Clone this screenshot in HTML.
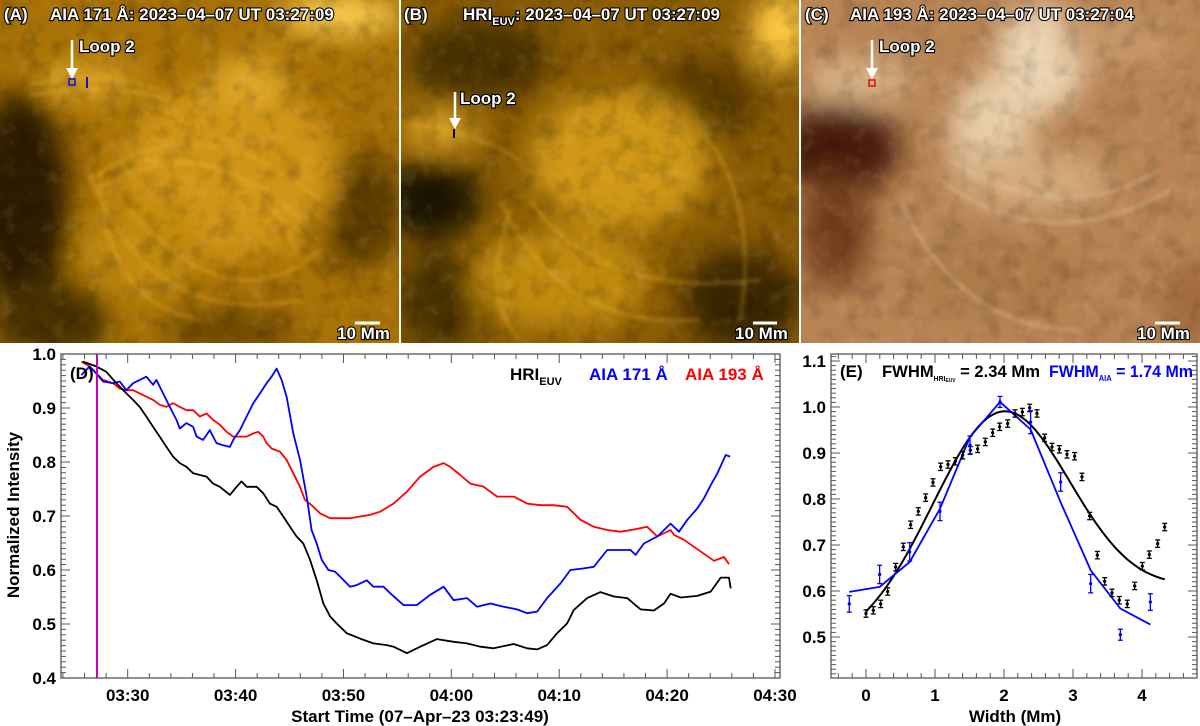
<!DOCTYPE html>
<html><head><meta charset="utf-8"><title>Loop 2 intensity and width</title>
<style>
html,body{margin:0;padding:0;background:#fff;}
svg{display:block;font-family:"Liberation Sans",sans-serif;}
.lbl{font-weight:bold;fill:#fff;stroke:#000;stroke-width:2.2px;paint-order:stroke;font-size:17px;}
.tk{font-weight:bold;font-size:17px;fill:#000;}
</style></head>
<body>
<svg id="fig" width="1200" height="726" viewBox="0 0 1200 726">
<defs>
 <clipPath id="cA"><rect x="0" y="0" width="399" height="343"/></clipPath>
 <clipPath id="cB"><rect x="401" y="0" width="398" height="343"/></clipPath>
 <clipPath id="cC"><rect x="801" y="0" width="399" height="343"/></clipPath>
 <filter id="blur8"><feGaussianBlur stdDeviation="14"/></filter>
 <filter id="blur3"><feGaussianBlur stdDeviation="2"/></filter>
 <filter id="tex" x="0" y="0" width="100%" height="100%">
  <feTurbulence type="fractalNoise" baseFrequency="0.05" numOctaves="3" seed="4"/>
  <feColorMatrix type="matrix" values="0 0 0 0 0  0 0 0 0 0  0 0 0 0 0  0 0 0 -2.2 1.2"/>
 </filter>
 <filter id="tex2" x="0" y="0" width="100%" height="100%">
  <feTurbulence type="fractalNoise" baseFrequency="0.06" numOctaves="3" seed="9"/>
  <feColorMatrix type="matrix" values="0 0 0 0 1  0 0 0 0 0.85  0 0 0 0 0.5  0 0 0 2.4 -1.3"/>
 </filter>
</defs>

<!-- Panel A -->
<g clip-path="url(#cA)">
 <rect x="0" y="0" width="399" height="343" fill="#a87206"/>
 <g filter="url(#blur8)">
  <ellipse cx="20" cy="200" rx="50" ry="110" fill="#2e1c00"/>
  <ellipse cx="50" cy="320" rx="60" ry="40" fill="#4a3000"/>
  <ellipse cx="360" cy="210" rx="40" ry="60" fill="#5a3a00"/>
  <ellipse cx="230" cy="330" rx="70" ry="20" fill="#6a4400"/>
  <ellipse cx="340" cy="15" rx="60" ry="20" fill="#ffd050"/>
  <ellipse cx="230" cy="170" rx="110" ry="90" fill="#d09414"/>
  <ellipse cx="90" cy="80" rx="50" ry="20" fill="#d8a020"/>
  <ellipse cx="250" cy="80" rx="40" ry="25" fill="#e0a828"/>
  <ellipse cx="140" cy="250" rx="60" ry="50" fill="#c08810"/>
 </g>
 <g fill="none" stroke="#f0b830" stroke-opacity="0.45" stroke-width="2.5" filter="url(#blur3)">
  <path d="M90 180 Q200 100 320 200"/><path d="M95 190 Q210 120 310 230"/><path d="M90 175 Q150 330 300 300"/>
  <path d="M120 200 Q230 330 320 250"/><path d="M100 170 Q100 300 200 320"/><path d="M140 160 Q260 150 300 260"/>
  <path d="M30 85 Q100 70 160 90"/><path d="M30 95 Q110 80 170 100"/>
 </g>
 <rect x="0" y="0" width="399" height="343" filter="url(#tex)" opacity="0.2"/>
 <rect x="0" y="0" width="399" height="343" filter="url(#tex2)" opacity="0.12"/>
</g>
<!-- Panel B -->
<g clip-path="url(#cB)">
 <rect x="401" y="0" width="398" height="343" fill="#8a5c04"/>
 <g filter="url(#blur8)">
  <ellipse cx="430" cy="200" rx="50" ry="40" fill="#1e1200"/>
  <ellipse cx="480" cy="60" rx="70" ry="40" fill="#4a3000"/>
  <ellipse cx="700" cy="100" rx="60" ry="40" fill="#5a3a00"/>
  <ellipse cx="740" cy="300" rx="60" ry="50" fill="#3a2600"/>
  <ellipse cx="440" cy="300" rx="40" ry="50" fill="#4a3000"/>
  <ellipse cx="620" cy="160" rx="90" ry="70" fill="#d09818"/>
  <ellipse cx="560" cy="280" rx="90" ry="50" fill="#c08a10"/>
  <ellipse cx="780" cy="30" rx="30" ry="40" fill="#ffc840"/>
  <ellipse cx="440" cy="130" rx="40" ry="20" fill="#d8a020"/>
 </g>
 <g fill="none" stroke="#f0b830" stroke-opacity="0.45" stroke-width="2.5" filter="url(#blur3)">
  <path d="M500 200 Q560 330 700 320"/><path d="M530 200 Q600 300 760 280"/><path d="M510 210 Q480 300 520 340"/>
  <path d="M700 130 Q760 200 740 320"/><path d="M410 125 Q470 130 520 160"/>
 </g>
 <rect x="401" y="0" width="398" height="343" filter="url(#tex)" opacity="0.2"/>
 <rect x="401" y="0" width="398" height="343" filter="url(#tex2)" opacity="0.12"/>
</g>
<!-- Panel C -->
<g clip-path="url(#cC)">
 <rect x="801" y="0" width="399" height="343" fill="#b88454"/>
 <g filter="url(#blur8)">
  <ellipse cx="840" cy="150" rx="60" ry="45" fill="#4a1e08"/>
  <ellipse cx="835" cy="230" rx="35" ry="60" fill="#74401a"/>
  <ellipse cx="860" cy="80" rx="55" ry="22" fill="#d8b488"/>
  <ellipse cx="1040" cy="60" rx="45" ry="55" fill="#ecd4b4"/>
  <ellipse cx="990" cy="130" rx="40" ry="55" fill="#e8cca8"/>
  <ellipse cx="1030" cy="180" rx="80" ry="30" fill="#d4aa7c"/>
  <ellipse cx="1120" cy="40" rx="60" ry="25" fill="#c89868"/>
  <ellipse cx="1000" cy="280" rx="90" ry="40" fill="#ad7a4a"/>
  <ellipse cx="1190" cy="300" rx="30" ry="40" fill="#a06a3a"/>
 </g>
 <g fill="none" stroke="#e8cfae" stroke-opacity="0.5" stroke-width="2.5" filter="url(#blur3)">
  <path d="M950 160 Q1060 230 1160 170"/><path d="M940 180 Q1050 260 1170 190"/><path d="M900 200 Q960 330 1080 330"/>
 </g>
 <rect x="801" y="0" width="399" height="343" filter="url(#tex)" opacity="0.15"/>
 <rect x="801" y="0" width="399" height="343" filter="url(#tex2)" opacity="0.12"/>
</g>
<rect x="399" y="0" width="2" height="343" fill="#fff"/>
<rect x="799" y="0" width="2" height="343" fill="#fff"/>

<!-- Labels top -->
<g>
 <text class="lbl" x="4" y="20">(A)</text>
 <text class="lbl" x="50" y="20">AIA 171 Å: 2023–04–07 UT 03:27:09</text>
 <line x1="72" y1="40" x2="72" y2="70" stroke="#fff" stroke-width="2.5"/>
 <polygon points="66,68 78,68 72,79" fill="#fff"/>
 <text class="lbl" x="79" y="52">Loop 2</text>
 <rect x="69" y="79" width="6" height="6" fill="none" stroke="#1010e0" stroke-width="1.5"/>
 <line x1="87" y1="77" x2="87" y2="88" stroke="#1010e0" stroke-width="2"/>
 <line x1="355" y1="323" x2="380" y2="323" stroke="#fff" stroke-width="3"/>
 <text class="lbl" x="337" y="339">10 Mm</text>
</g>
<g>
 <text class="lbl" x="404" y="20">(B)</text>
 <text class="lbl" x="463" y="20">HRI<tspan font-size="11" dy="5">EUV</tspan><tspan dy="-5">: 2023–04–07 UT 03:27:09</tspan></text>
 <line x1="455" y1="92" x2="455" y2="120" stroke="#fff" stroke-width="2.5"/>
 <polygon points="449,118 461,118 455,129" fill="#fff"/>
 <text class="lbl" x="460" y="104">Loop 2</text>
 <line x1="454" y1="129" x2="454" y2="138" stroke="#000" stroke-width="2"/>
 <line x1="753" y1="323" x2="777" y2="323" stroke="#fff" stroke-width="3"/>
 <text class="lbl" x="735" y="339">10 Mm</text>
</g>
<g>
 <text class="lbl" x="805" y="20">(C)</text>
 <text class="lbl" x="850" y="20">AIA 193 Å: 2023–04–07 UT 03:27:04</text>
 <line x1="872" y1="40" x2="872" y2="70" stroke="#fff" stroke-width="2.5"/>
 <polygon points="866,68 878,68 872,79" fill="#fff"/>
 <text class="lbl" x="879" y="52">Loop 2</text>
 <rect x="869" y="80" width="6" height="6" fill="none" stroke="#e01010" stroke-width="1.5"/>
 <line x1="1155" y1="323" x2="1180" y2="323" stroke="#fff" stroke-width="3"/>
 <text class="lbl" x="1137" y="339">10 Mm</text>
</g>

<g id="plotD"></g>
<g id="plotE"></g>
</svg>

<script>
// ===== Panel D data (time in minutes after 03:00) =====
const hriT = [25.85,27.09,28.02,28.95,29.88,30.5,31.11,31.73,32.35,32.97,33.59,34.21,34.83,35.45,36.07,36.69,37.3,37.92,38.54,39.47,40.09,40.55,41.02,41.95,42.57,43.18,43.8,44.42,45.04,45.66,46.28,46.9,47.52,48.14,48.76,49.37,50.3,51.54,52.78,54.02,54.64,55.88,57.11,58.66,60.21,61.45,62.69,63.92,65.78,67.02,67.95,68.88,69.8,70.73,71.35,72.59,73.83,75.07,76.3,77.54,78.78,79.71,80.33,81.26,82.8,84.04,84.97,85.74,85.9];
const hriV = [0.986,0.977,0.967,0.946,0.927,0.915,0.902,0.884,0.865,0.847,0.828,0.81,0.798,0.791,0.779,0.776,0.773,0.76,0.754,0.739,0.754,0.764,0.754,0.754,0.742,0.723,0.717,0.699,0.68,0.662,0.649,0.619,0.581,0.538,0.514,0.501,0.483,0.473,0.464,0.461,0.458,0.446,0.458,0.472,0.467,0.464,0.458,0.455,0.463,0.455,0.453,0.461,0.483,0.501,0.526,0.548,0.559,0.551,0.548,0.527,0.525,0.538,0.556,0.549,0.552,0.56,0.586,0.586,0.566];
const aia171T = [25.7,26.47,27.09,27.71,28.64,29.26,29.88,30.5,31.11,31.73,32.35,32.66,33.28,33.9,34.52,34.83,35.45,36.07,36.38,36.99,37.61,38.23,38.85,39.47,39.78,40.4,41.02,41.64,42.26,42.88,43.34,43.8,44.27,44.73,45.35,45.97,46.59,47.05,47.52,47.98,48.6,49.22,49.68,50.61,51.23,52.16,52.78,53.71,54.33,55.57,56.8,58.04,59.28,60.21,61.45,62.38,63.61,64.85,66.09,67.02,67.95,68.88,70.11,71.04,72.28,73.21,74.45,75.07,76.61,77.08,77.85,79.09,80.33,81.1,81.87,82.8,83.42,84.04,84.66,85.43,85.84];
const aia171V = [0.961,0.977,0.964,0.949,0.946,0.949,0.933,0.946,0.952,0.958,0.943,0.952,0.927,0.902,0.878,0.862,0.872,0.865,0.847,0.841,0.859,0.835,0.831,0.828,0.841,0.859,0.884,0.909,0.927,0.946,0.958,0.973,0.952,0.921,0.853,0.804,0.736,0.674,0.649,0.619,0.6,0.597,0.588,0.569,0.572,0.581,0.569,0.569,0.557,0.535,0.535,0.554,0.569,0.544,0.548,0.532,0.538,0.532,0.527,0.52,0.523,0.548,0.575,0.6,0.603,0.606,0.637,0.637,0.637,0.628,0.649,0.662,0.686,0.671,0.693,0.714,0.733,0.757,0.779,0.813,0.81];
const aia193T = [25.7,26.47,27.09,27.71,28.64,29.26,29.88,30.5,31.11,31.73,32.35,32.97,33.59,34.21,34.83,35.45,36.07,36.69,37.3,37.92,38.54,39.16,39.78,40.4,41.02,41.64,42.1,42.57,42.88,43.34,44.11,44.73,45.35,45.97,46.43,47.05,47.83,48.76,49.68,50.61,51.54,52.47,53.4,54.64,55.88,57.11,58.35,59.28,59.9,60.83,61.76,63.0,64.23,65.78,67.02,68.26,69.49,70.73,71.97,73.21,74.45,75.68,76.92,78.16,79.09,80.33,80.64,81.57,82.49,83.42,84.35,85.28,85.74];
const aia193V = [0.986,0.977,0.964,0.952,0.946,0.936,0.933,0.933,0.927,0.921,0.915,0.906,0.902,0.909,0.902,0.896,0.896,0.884,0.89,0.878,0.869,0.856,0.847,0.847,0.847,0.853,0.856,0.847,0.835,0.825,0.819,0.804,0.779,0.754,0.73,0.72,0.705,0.696,0.696,0.696,0.699,0.702,0.708,0.723,0.745,0.773,0.791,0.798,0.791,0.776,0.76,0.754,0.736,0.736,0.723,0.72,0.72,0.717,0.693,0.68,0.674,0.671,0.675,0.68,0.662,0.674,0.665,0.656,0.643,0.63,0.617,0.624,0.611];
const markerT = [27.15];
const dXTicks = [30,40,50,60,70,80,90];
const dXTickLabels = ["03:30","03:40","03:50","04:00","04:10","04:20","04:30"];
const dYTicks = [0.4,0.5,0.6,0.7,0.8,0.9,1.0];
const dYTickLabels = ["0.4","0.5","0.6","0.7","0.8","0.9","1.0"];

// ===== Panel E data =====
const hriW = [0,0.106,0.213,0.314,0.430,0.541,0.647,0.758,0.865,0.971,1.082,1.188,1.295,1.401,1.512,1.618,1.729,1.836,1.937,2.053,2.159,2.266,2.372,2.478,2.589,2.696,2.802,2.913,3.024,3.130,3.242,3.353,3.459,3.565,3.671,3.787,3.894,4.005,4.106,4.227,4.329];
const hriProf = [0.551,0.558,0.572,0.599,0.652,0.696,0.744,0.773,0.803,0.836,0.870,0.875,0.882,0.895,0.906,0.909,0.924,0.944,0.957,0.964,0.986,0.989,0.998,0.986,0.933,0.913,0.908,0.897,0.893,0.848,0.763,0.678,0.621,0.596,0.580,0.572,0.611,0.654,0.679,0.703,0.739];
const hriErr = [0.008];
const aiaW = [-0.242,0.198,0.633,1.072,1.507,1.942,2.386,2.821,3.256,3.686,4.121];
const aiaProf = [0.572,0.636,0.685,0.773,0.917,1.011,0.967,0.837,0.616,0.505,0.576];
const aiaErr = [0.018,0.02,0.02,0.02,0.02,0.012,0.025,0.02,0.02,0.012,0.018];
const aiaFit = [0.598,0.609,0.663,0.779,0.935,1.011,0.951,0.793,0.645,0.562,0.527];
// Gaussian + linear fit parameters for HRI: amplitude, center, sigma, b0, b1, wmin, wmax
const hriFitParams = [0.45,1.96,0.994,0.491,0.025,0,4.33];
const eXTicks = [0,1,2,3,4];
const eXTickLabels = ["0","1","2","3","4"];
const eYTicks = [0.5,0.6,0.7,0.8,0.9,1.0,1.1];
const eYTickLabels = ["0.5","0.6","0.7","0.8","0.9","1.0","1.1"];

const NS = "http://www.w3.org/2000/svg";
function mk(parent, tag, attrs){const e=document.createElementNS(NS,tag);for(const k in attrs)e.setAttribute(k,attrs[k]);parent.appendChild(e);return e;}

// ---------- Panel D ----------
const D = {l:61,r:780,t:354,b:678,t0:23+49/60,t1:90+28/60,v0:0.4,v1:1.0};
const dx = t => D.l + (t-D.t0)/(D.t1-D.t0)*(D.r-D.l);
const dy = v => D.b - (v-D.v0)/(D.v1-D.v0)*(D.b-D.t);
const gD = document.getElementById('plotD');

function axesBox(g, P, name){
  const r = mk(g,'rect',{x:P.l,y:P.t,width:P.r-P.l,height:P.b-P.t,fill:'none',stroke:'#555','stroke-width':1.3});
  
  
}
axesBox(gD, D, 'panel-d-axes-frame');
for(let m=24;m<=90;m+=2){
  const x=dx(m); const major=(m%10===0);
  const L = major?9:5;
  mk(gD,'line',{x1:x,y1:D.b,x2:x,y2:D.b-L,stroke:'#555','stroke-width':1});
  mk(gD,'line',{x1:x,y1:D.t,x2:x,y2:D.t+L,stroke:'#555','stroke-width':1});
}
for(let i=40;i<=100;i++){
  const v=i/100; const y=dy(v); const major=(i%10===0);
  const L = major?9:5;
  mk(gD,'line',{x1:D.l,y1:y,x2:D.l+L,y2:y,stroke:'#555','stroke-width':1});
  mk(gD,'line',{x1:D.r,y1:y,x2:D.r-L,y2:y,stroke:'#555','stroke-width':1});
}
dXTicks.forEach((t,i)=>{
  const tx=mk(gD,'text',{x:dx(t),y:701,'text-anchor':'middle',class:'tk'});
  tx.textContent=dXTickLabels[i];
  
  
});
dYTicks.forEach((v,i)=>{
  const tx=mk(gD,'text',{x:56,y:dy(v)+6,'text-anchor':'end',class:'tk'});
  tx.textContent=dYTickLabels[i];
  
  
});
function series(g,T,V,color,name,fx,fy){
  const p=mk(g,'polyline',{points:T.map((t,i)=>fx(t).toFixed(1)+','+fy(V[i]).toFixed(1)).join(' '),fill:'none',stroke:color,'stroke-width':1.8,'stroke-linejoin':'round'});
  
  
}
series(gD,aia193T,aia193V,'#ff0000','line-aia-193',dx,dy);
series(gD,aia171T,aia171V,'#0000ff','line-aia-171',dx,dy);
series(gD,hriT,hriV,'#000000','line-hri-euv',dx,dy);
const mkr=mk(gD,'line',{x1:dx(markerT[0]),y1:D.t,x2:dx(markerT[0]),y2:D.b,stroke:'#c000c0','stroke-width':2});


let t1=mk(gD,'text',{x:70,y:379,class:'tk'}); t1.textContent='(D)';


let lg=mk(gD,'text',{x:510,y:380,class:'tk','font-size':18}); lg.innerHTML='HRI<tspan font-size="11" dy="5">EUV</tspan>';


let lb=mk(gD,'text',{x:589,y:380,class:'tk',style:'fill:#0000ff','font-size':18}); lb.textContent='AIA 171 Å';


let lr=mk(gD,'text',{x:685,y:380,class:'tk',style:'fill:#ff0000','font-size':18}); lr.textContent='AIA 193 Å';


let yt=mk(gD,'text',{x:0,y:0,class:'tk','text-anchor':'middle',transform:'translate(19,515) rotate(-90)'}); yt.textContent='Normalized Intensity';


let xt=mk(gD,'text',{x:420,y:722,class:'tk','text-anchor':'middle'}); xt.textContent='Start Time (07–Apr–23 03:23:49)';



// ---------- Panel E ----------
const E = {l:831,r:1197,t:354,b:678,w0:-0.507,w1:4.797,v0:0.4109,v1:1.1152};
const ex = w => E.l + (w-E.w0)/(E.w1-E.w0)*(E.r-E.l);
const ey = v => E.b - (v-E.v0)/(E.v1-E.v0)*(E.b-E.t);
const gE = document.getElementById('plotE');
axesBox(gE, E, 'panel-e-axes-frame');
for(let i=-2;i<=23;i++){
  const w=i*0.2; const x=ex(w); const major=(i%5===0); const L=major?9:5;
  mk(gE,'line',{x1:x,y1:E.b,x2:x,y2:E.b-L,stroke:'#555','stroke-width':1});
  mk(gE,'line',{x1:x,y1:E.t,x2:x,y2:E.t+L,stroke:'#555','stroke-width':1});
}
for(let i=42;i<=111;i++){
  const y=ey(i/100); const major=(i%10===0); const L=major?9:5;
  mk(gE,'line',{x1:E.l,y1:y,x2:E.l+L,y2:y,stroke:'#555','stroke-width':1});
  mk(gE,'line',{x1:E.r,y1:y,x2:E.r-L,y2:y,stroke:'#555','stroke-width':1});
}
eXTicks.forEach((w,i)=>{
  const tx=mk(gE,'text',{x:ex(w),y:701,'text-anchor':'middle',class:'tk'}); tx.textContent=eXTickLabels[i];
  
  
});
eYTicks.forEach((v,i)=>{
  const tx=mk(gE,'text',{x:826,y:ey(v)+6,'text-anchor':'end',class:'tk'}); tx.textContent=eYTickLabels[i];
  
  
});
(function(){
  const [A,c,s,b0,b1,wa,wb]=hriFitParams; const pts=[];
  for(let k=0;k<=80;k++){const w=wa+(wb-wa)*k/80; const v=b0+b1*w+A*Math.exp(-(w-c)*(w-c)/(2*s*s)); pts.push(ex(w).toFixed(1)+','+ey(v).toFixed(1));}
  const p=mk(gE,'polyline',{points:pts.join(' '),fill:'none',stroke:'#000','stroke-width':2});
  
  
})();
series(gE,aiaW,aiaFit,'#0000ff','aia-fit-line',ex,ey);
function errbar(g,w,v,e,color,name){
  const x=ex(w),y1=ey(v-e),y2=ey(v+e);
  const grp=mk(g,'g',{stroke:color,'stroke-width':1.3});
  
  
  mk(grp,'line',{x1:x,y1:y1,x2:x,y2:y2});
  mk(grp,'line',{x1:x-2.5,y1:y1,x2:x+2.5,y2:y1});
  mk(grp,'line',{x1:x-2.5,y1:y2,x2:x+2.5,y2:y2});
  mk(grp,'circle',{cx:x,cy:ey(v),r:1,fill:color});
}
hriW.forEach((w,i)=>errbar(gE,w,hriProf[i],hriErr[0],'#000','hri-data-point'));
aiaW.forEach((w,i)=>errbar(gE,w,aiaProf[i],aiaErr[i],'#0000ff','aia-data-point'));
let te=mk(gE,'text',{x:840,y:377,class:'tk'}); te.textContent='(E)';


let fh=mk(gE,'text',{x:882,y:377,class:'tk','font-size':14,textLength:158,lengthAdjust:'spacingAndGlyphs'}); fh.innerHTML='FWHM<tspan font-size="7" dy="4">HRI</tspan><tspan font-size="5" dy="1">EUV</tspan><tspan dy="-5"> = 2.34 Mm</tspan>';


let fa=mk(gE,'text',{x:1049,y:377,class:'tk',style:'fill:#0000ff','font-size':14,textLength:144,lengthAdjust:'spacingAndGlyphs'}); fa.innerHTML='FWHM<tspan font-size="8" dy="4">AIA</tspan><tspan dy="-4"> = 1.74 Mm</tspan>';


let xe=mk(gE,'text',{x:1015,y:722,class:'tk','text-anchor':'middle'}); xe.textContent='Width (Mm)';


</script>
</body></html>
